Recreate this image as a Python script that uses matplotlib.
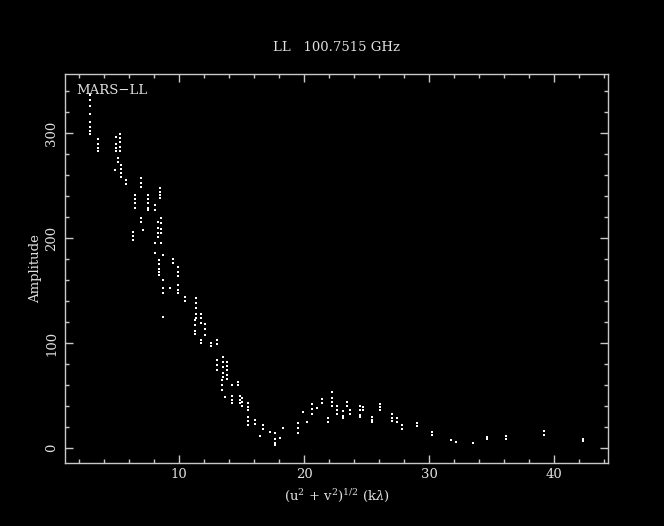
import matplotlib
matplotlib.use('Agg')
import matplotlib.pyplot as plt
from matplotlib.ticker import MultipleLocator

plt.rcParams['font.family'] = 'DejaVu Serif'
plt.rcParams['mathtext.fontset'] = 'dejavuserif'

# uv distance (k-lambda) and amplitude
uvdist = [2.9, 2.9, 2.9, 2.9, 2.9, 2.9, 2.9, 2.9,
          3.5, 3.5, 3.5, 3.5,
          5.0, 5.0, 5.0, 5.0,
          5.3, 5.3, 5.3, 5.3, 5.3,
          5.1, 5.1, 5.4, 5.4, 5.4, 5.4, 4.9,
          5.8, 5.8, 7.0, 7.0, 7.0,
          6.5, 6.5, 6.5, 6.5,
          7.5, 7.5, 7.5, 7.5, 7.5,
          8.5, 8.5, 8.5, 8.5, 8.1, 8.1,
          6.3, 6.3, 6.3, 7.0, 7.0, 7.1,
          8.3, 8.3, 8.3, 8.3, 8.6, 8.6, 8.6, 8.6,
          8.1, 8.1, 8.6, 8.7,
          8.4, 8.4, 8.4, 8.4, 8.4,
          9.5, 9.5, 9.9, 9.9, 9.9,
          8.7, 8.7, 8.7, 9.3, 9.9, 9.9, 9.9, 8.7,
          10.5, 10.5,
          11.4, 11.4, 11.4, 11.4, 11.4,
          11.8, 11.8, 11.8, 12.1, 12.1, 12.1,
          11.3, 11.3, 11.3, 11.3,
          11.8, 11.8, 12.6, 12.6, 13.0, 13.0,
          13.0, 13.0, 13.0,
          13.5, 13.5, 13.5, 13.5, 13.5,
          13.8, 13.8, 13.8, 13.8, 13.8,
          13.4, 13.4, 13.4, 14.2, 14.7, 14.7, 13.7,
          14.2, 14.2, 14.2, 14.9, 14.9, 14.9,
          15.5, 15.5, 15.5, 15.0, 15.0, 15.0,
          15.5, 15.5, 15.5, 16.1, 16.1, 16.7, 16.7, 16.5, 17.3,
          17.7, 17.7, 17.7, 17.7, 18.3, 18.1,
          19.5, 19.5, 19.5, 19.9, 20.2,
          20.6, 20.6, 20.6, 21.0, 21.4, 21.4, 21.9, 21.9,
          22.2, 22.2, 22.2, 22.2, 22.6, 22.6, 22.6,
          23.1, 23.1, 23.1, 23.4, 23.4, 23.7, 23.7,
          24.5, 24.5, 24.5, 24.5, 24.7, 24.7,
          25.4, 25.4, 25.4, 26.1, 26.1, 26.1,
          27.0, 27.0, 27.0, 27.4, 27.4, 27.8, 27.8,
          29.0, 29.0, 30.2, 30.2, 31.7, 32.1, 33.5,
          34.6, 34.6, 36.1, 36.1, 39.2, 39.2, 42.3, 42.3]

amp = [336, 331, 326, 318, 310, 306, 302, 299,
       294, 290, 286, 283,
       296, 290, 286, 283,
       299, 295, 291, 287, 283,
       276, 272, 270, 266, 262, 258, 265,
       255, 251, 257, 252, 249,
       241, 237, 233, 229,
       241, 237, 233, 229, 227,
       248, 244, 241, 238, 231, 227,
       206, 202, 198, 219, 215, 208,
       215, 210, 205, 201, 219, 214, 209, 205,
       195, 186, 195, 184,
       179, 175, 171, 168, 165,
       180, 176, 172, 168, 164,
       160, 152, 148, 152, 155, 151, 148, 125,
       144, 140,
       143, 138, 133, 128, 124,
       128, 124, 119, 118, 113, 108,
       122, 117, 112, 109,
       103, 100, 100, 97, 103, 99,
       84, 79, 74,
       87, 82, 77, 72, 68,
       82, 78, 74, 70, 66,
       65, 60, 55, 60, 63, 60, 49,
       50, 46, 43, 50, 46, 43,
       43, 39, 36, 48, 44, 40,
       30, 26, 22, 27, 23, 22, 18, 12, 15,
       14, 9, 5, 3, 19, 10,
       24, 19, 14, 34, 25,
       42, 37, 33, 38, 47, 43, 29, 25,
       53, 48, 44, 40, 40, 36, 33,
       35, 31, 29, 44, 40, 36, 33,
       40, 36, 32, 30, 39, 36,
       30, 27, 25, 42, 39, 36,
       33, 29, 26, 29, 25, 22, 18,
       24, 21, 15, 13, 8, 6, 5,
       11, 9, 12, 9, 16, 13, 9, 7]

fg = '#e0e0e0'
fig = plt.figure(figsize=(6.64, 5.26), dpi=100, facecolor='black')
ax = fig.add_axes([0.098, 0.120, 0.818, 0.739], facecolor='black')

ax.plot(uvdist, amp, 's', color='white', markersize=1.6, markeredgewidth=0)

ax.set_xlim(0.9, 44.3)
ax.set_ylim(-14, 356)
ax.xaxis.set_major_locator(MultipleLocator(10))
ax.xaxis.set_minor_locator(MultipleLocator(2))
ax.yaxis.set_major_locator(MultipleLocator(100))
ax.yaxis.set_minor_locator(MultipleLocator(20))

for s in ax.spines.values():
    s.set_color('#c8c8c8')
    s.set_linewidth(1.0)
ax.tick_params(which='both', direction='in', top=True, right=True, colors='#c8c8c8',
               labelcolor=fg)
ax.tick_params(which='major', length=6, width=1)
ax.tick_params(which='minor', length=3, width=1)
ax.tick_params(axis='x', labelsize=9.5, pad=4)
ax.tick_params(axis='y', labelsize=9.5, pad=5, labelrotation=90)
for lab in ax.get_yticklabels():
    lab.set_verticalalignment('center')

ax.set_xlabel(r'$(\mathrm{u}^2$ + $\mathrm{v}^2)^{1/2}$ (k$\lambda$)', color=fg, fontsize=9.5, labelpad=4)
ax.set_ylabel('Amplitude', color=fg, fontsize=9.5, labelpad=2)
ax.set_title('LL   100.7515 GHz', color=fg, fontsize=9.5, pad=17)
ax.text(0.02, 0.975, 'MARS\u2212LL', transform=ax.transAxes, color=fg,
        fontsize=9.5, va='top', ha='left')

fig.savefig('out.png', dpi=100, facecolor='black')
